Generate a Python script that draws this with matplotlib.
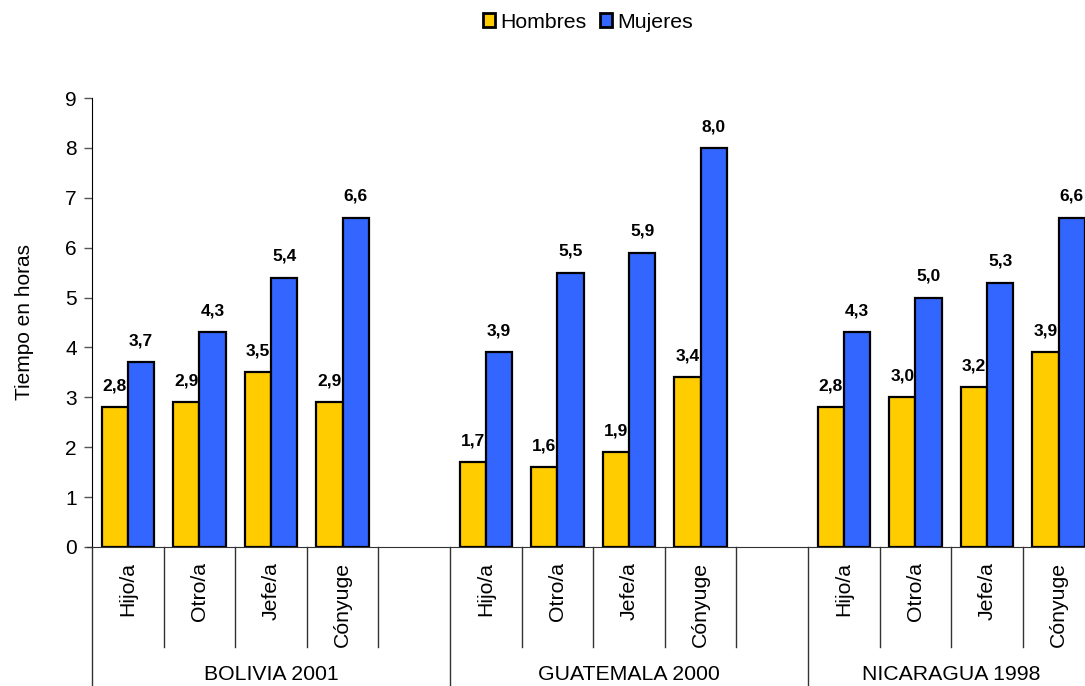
import matplotlib
matplotlib.use("Agg")
import matplotlib.pyplot as plt
from matplotlib.patches import Patch
import matplotlib.transforms as mtransforms
import numpy as np

plt.rcParams['font.family'] = ['Liberation Sans', 'DejaVu Sans']

groups = ["BOLIVIA 2001", "GUATEMALA 2000", "NICARAGUA 1998"]
categories = ["Hijo/a", "Otro/a", "Jefe/a", "Cónyuge"]
hombres = {
    "BOLIVIA 2001": [2.8, 2.9, 3.5, 2.9],
    "GUATEMALA 2000": [1.7, 1.6, 1.9, 3.4],
    "NICARAGUA 1998": [2.8, 3.0, 3.2, 3.9],
}
mujeres = {
    "BOLIVIA 2001": [3.7, 4.3, 5.4, 6.6],
    "GUATEMALA 2000": [3.9, 5.5, 5.9, 8.0],
    "NICARAGUA 1998": [4.3, 5.0, 5.3, 6.6],
}
yticks = list(range(0, 10))

W, H = 1085, 686
fig = plt.figure(figsize=(W / 100, H / 100), dpi=100)
slot_px = 71.6
nslots = 14
ax = fig.add_axes([92 / W, (H - 547) / H, nslots * slot_px / W, (547 - 98) / H])

yellow = "#FFCC00"
blue = "#3366FF"
bw = 0.365

def fmt(v):
    return f"{v:.1f}".replace(".", ",")

for gi, g in enumerate(groups):
    base = gi * 5
    for ci, cat in enumerate(categories):
        c = base + ci + 0.5
        h = hombres[g][ci]
        m = mujeres[g][ci]
        ax.bar(c - bw / 2, h, bw, color=yellow, edgecolor="black", linewidth=1.6, zorder=3)
        ax.bar(c + bw / 2, m, bw, color=blue, edgecolor="black", linewidth=1.6, zorder=3)
        ax.annotate(fmt(h), (c - bw / 2, h), xytext=(0, 10), textcoords="offset points",
                    ha="center", va="bottom", fontsize=12.5, fontweight="bold")
        ax.annotate(fmt(m), (c + bw / 2, m), xytext=(0, 10), textcoords="offset points",
                    ha="center", va="bottom", fontsize=12.5, fontweight="bold")

ax.set_xlim(0, nslots)
ax.set_ylim(0, 9)
ax.set_yticks(yticks)
ax.set_yticklabels([str(t) for t in yticks], fontsize=15)
ax.tick_params(axis="y", length=6, width=1, color="#555555", pad=5)
ax.set_xticks([])
for s in ["top", "right"]:
    ax.spines[s].set_visible(False)
ax.spines["left"].set_color("black")
ax.spines["bottom"].set_color("#333333")
ax.spines["bottom"].set_bounds(-0.07, nslots)
ax.set_ylabel("Tiempo en horas", fontsize=15, labelpad=22)

trans = mtransforms.blended_transform_factory(ax.transData, ax.transAxes)
axh = 547 - 98
minor_bottom = -(647 - 547) / axh
major_bottom = -(686 - 547) / axh
for gi, g in enumerate(groups):
    base = gi * 5
    ax.plot([base, base], [0, major_bottom], transform=trans, color="#333333", lw=1, clip_on=False)
    for k in range(1, 5):
        ax.plot([base + k, base + k], [0, minor_bottom], transform=trans, color="#333333", lw=1, clip_on=False)
    for ci, cat in enumerate(categories):
        ax.text(base + ci + 0.5, -(562 - 547) / axh, cat, transform=trans, rotation=90,
                ha="center", va="top", fontsize=15.3)
    ax.text(base + 2 if gi == 2 else base + 2.5, -(674 - 547) / axh, g, transform=trans,
            ha="center", va="center", fontsize=15.3)

handles = [Patch(facecolor=yellow, edgecolor="black", linewidth=2, label="Hombres"),
           Patch(facecolor=blue, edgecolor="black", linewidth=2, label="Mujeres")]
fig.legend(handles=handles, loc="center", bbox_to_anchor=(588 / W, (H - 22) / H), ncol=2,
           frameon=False, fontsize=15.3, handlelength=0.6, handleheight=0.6,
           handletextpad=0.25, columnspacing=0.6)

fig.savefig("out.png", dpi=100)
